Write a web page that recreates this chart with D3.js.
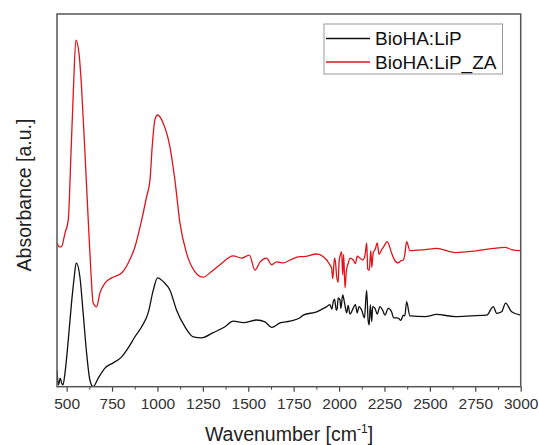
<!DOCTYPE html>
<html>
<head>
<meta charset="utf-8">
<script src="https://cdn.jsdelivr.net/npm/d3@7"></script>
<style>
  body { margin: 0; background: #fff; }
  svg { display: block; font-family: Arial, "Liberation Sans", sans-serif; }
</style>
</head>
<body>
<div id="chart"></div>
<script>
// FTIR spectra, values (arbitrary absorbance units)
const seriesNames = ['BioHA:LiP', 'BioHA:LiP_ZA'];
const seriesColors = ['#111111', '#e0141a'];

const lipWave = [447, 455, 465, 472, 480, 491, 509, 527, 540, 553, 573, 591, 610, 628, 646, 674, 711, 757, 803, 839,
  876, 913, 949, 977, 1001, 1032, 1069, 1105, 1151, 1197, 1243, 1307, 1372, 1417, 1473, 1546, 1592, 1629, 1675, 1730,
  1785, 1803, 1877, 1932, 1950, 1960, 1968, 1975, 1985, 1990, 1995, 2005, 2010, 2020, 2030, 2042, 2050, 2060, 2078, 2090,
  2100, 2110, 2124, 2140, 2148, 2152, 2160, 2166, 2172, 2180, 2185, 2197, 2210, 2225, 2240, 2253, 2270, 2289, 2300, 2326,
  2340, 2354, 2362, 2372, 2390, 2473, 2537, 2638, 2730, 2813, 2849, 2868, 2895, 2917, 2950, 3000];
const lipAbs = [4.5, 0.5, 2.3, 1.0, 0.5, 3.7, 12.5, 22.5, 28.6, 33.2, 29.5, 19.8, 9.0, 1.8, 0.0, 2.3, 5.0, 6.4, 8.0, 10.4,
  13.4, 16.1, 19.8, 25.9, 29.2, 28.2, 25.9, 20.6, 16.1, 13.4, 13.1, 14.5, 16.1, 17.6, 17.2, 17.9, 17.4, 15.9, 17.1, 17.6,
  18.5, 19.2, 20.1, 21.5, 22.0, 20.8, 22.8, 23.5, 20.5, 21.1, 23.8, 23.3, 21.0, 24.6, 22.5, 19.8, 21.8, 19.5, 21.1, 22.0,
  19.8, 21.5, 20.6, 18.5, 24.0, 25.8, 17.8, 16.6, 22.0, 17.5, 21.5, 21.1, 19.5, 21.5, 20.5, 19.2, 21.0, 20.1, 18.5, 18.4,
  17.8, 19.2, 19.0, 22.8, 19.0, 18.8, 19.4, 18.8, 19.0, 19.2, 21.5, 19.7, 20.1, 22.4, 20.1, 19.2];

const zaWave = [447, 460, 472, 491, 509, 524, 538, 551, 568, 582, 601, 619, 634, 646, 665, 683, 711, 748, 803, 839,
  876, 913, 940, 959, 971, 986, 1001, 1032, 1069, 1096, 1124, 1160, 1206, 1252, 1298, 1344, 1417, 1463, 1506, 1537,
  1565, 1601, 1629, 1656, 1693, 1730, 1785, 1803, 1877, 1932, 1945, 1959, 1965, 1975, 1980, 1987, 1995, 2000, 2005, 2014,
  2020, 2025, 2033, 2040, 2051, 2060, 2078, 2090, 2100, 2115, 2130, 2143, 2152, 2158, 2166, 2175, 2180, 2188, 2200, 2210,
  2220, 2234, 2245, 2265, 2289, 2300, 2326, 2340, 2354, 2362, 2372, 2390, 2473, 2537, 2638, 2748, 2849, 2913, 2950, 3000];
const zaAbs = [38.6, 37.5, 37.6, 41.2, 44.7, 62.6, 80.5, 93.0, 89.5, 80.5, 62.6, 44.7, 30.5, 22.5, 21.4, 25.1, 27.8, 29.2, 30.5, 33.2,
  37.5, 44.7, 50.9, 55.5, 64.3, 71.6, 72.9, 70.7, 64.3, 55.5, 43.9, 35.9, 30.9, 29.4, 30.9, 32.7, 35.1, 34.5, 35.3, 31.3,
  33.5, 34.5, 32.7, 33.5, 33.2, 34.0, 34.9, 34.9, 35.6, 34.0, 33.0, 31.8, 29.0, 34.5, 33.5, 29.5, 28.0, 33.5, 35.0, 36.2,
  30.0, 35.5, 26.5, 31.0, 33.2, 34.5, 34.0, 33.0, 35.0, 34.5, 34.0, 35.3, 38.6, 31.5, 31.3, 36.5, 32.0, 35.9, 37.0, 38.6,
  35.5, 36.7, 37.5, 38.9, 35.9, 34.5, 33.2, 33.8, 34.0, 35.5, 38.9, 36.5, 36.8, 37.1, 36.0, 36.4, 37.1, 37.4, 36.8, 36.5];

const xTicks = [500, 750, 1000, 1250, 1500, 1750, 2000, 2250, 2500, 2750, 3000];

const width = 539, height = 445;
const m = { left: 57, top: 14, right: 520.7, bottom: 386.7 };

const x = d3.scaleLinear().domain([447, 3000]).range([m.left, m.right]);
const y = d3.scaleLinear().domain([0, 100]).range([m.bottom, m.top]);

const svg = d3.select('#chart').append('svg')
  .attr('width', width)
  .attr('height', height);

svg.append('clipPath').attr('id', 'plotclip')
  .append('rect')
  .attr('x', m.left).attr('y', m.top)
  .attr('width', m.right - m.left).attr('height', m.bottom - m.top);

const series = [
  { name: seriesNames[0], color: seriesColors[0], pts: lipWave.map((w, i) => [w, lipAbs[i]]) },
  { name: seriesNames[1], color: seriesColors[1], pts: zaWave.map((w, i) => [w, zaAbs[i]]) }
];

const line = d3.line()
  .curve(d3.curveMonotoneX)
  .x(d => x(d[0]))
  .y(d => y(d[1]));

svg.append('g').attr('clip-path', 'url(#plotclip)')
  .selectAll('path')
  .data(series)
  .enter().append('path')
    .attr('fill', 'none')
    .attr('stroke', d => d.color)
    .attr('stroke-width', 1.3)
    .attr('stroke-linejoin', 'round')
    .attr('d', d => line(d.pts));

// x axis with minor ticks
const minor = d3.range(625, 3000, 250);
svg.append('g')
  .attr('transform', 'translate(0,' + m.bottom + ')')
  .call(d3.axisBottom(x).tickValues(minor).tickSize(3).tickFormat(''))
  .call(g => g.select('.domain').remove())
  .call(g => g.selectAll('line').attr('stroke', '#444'));

const xAxis = svg.append('g')
  .attr('transform', 'translate(0,' + m.bottom + ')')
  .call(d3.axisBottom(x).tickValues(xTicks).tickSize(5).tickPadding(6).tickFormat(d3.format('d')));
xAxis.select('.domain').remove();
xAxis.selectAll('line').attr('stroke', '#444').attr('stroke-width', 1.2);
xAxis.selectAll('text')
  .attr('font-size', 15.5)
  .attr('fill', '#333')
  .attr('font-family', 'Arial, "Liberation Sans", sans-serif');

// frame
svg.append('rect')
  .attr('x', m.left).attr('y', m.top)
  .attr('width', m.right - m.left).attr('height', m.bottom - m.top)
  .attr('fill', 'none')
  .attr('stroke', '#555')
  .attr('stroke-width', 1.5);

// axis titles
const xt = svg.append('text')
  .attr('x', 289).attr('y', 441)
  .attr('text-anchor', 'middle')
  .attr('font-size', 19.5)
  .attr('fill', '#222');
xt.append('tspan').text('Wavenumber [cm');
xt.append('tspan').attr('font-size', 12).attr('dy', -8).text('-1');
xt.append('tspan').attr('dy', 8).text(']');

svg.append('text')
  .attr('transform', 'translate(31,195) rotate(-90)')
  .attr('text-anchor', 'middle')
  .attr('font-size', 19.5)
  .attr('fill', '#222')
  .text('Absorbance [a.u.]');

// legend
const lg = svg.append('g');
lg.append('rect')
  .attr('x', 324).attr('y', 24)
  .attr('width', 178.5).attr('height', 50)
  .attr('fill', '#fff')
  .attr('stroke', '#999')
  .attr('stroke-width', 1);

const item = lg.selectAll('.item')
  .data(series)
  .enter().append('g')
    .attr('class', 'item')
    .attr('transform', (d, i) => 'translate(0,' + (38.5 + i * 23.5) + ')');

item.append('line')
  .attr('x1', 326).attr('x2', 370)
  .attr('stroke', d => d.color)
  .attr('stroke-width', 1.5);

item.append('text')
  .attr('x', 375).attr('dy', '0.35em')
  .attr('font-size', 19)
  .attr('fill', '#111')
  .text(d => d.name);
</script>
</body>
</html>
